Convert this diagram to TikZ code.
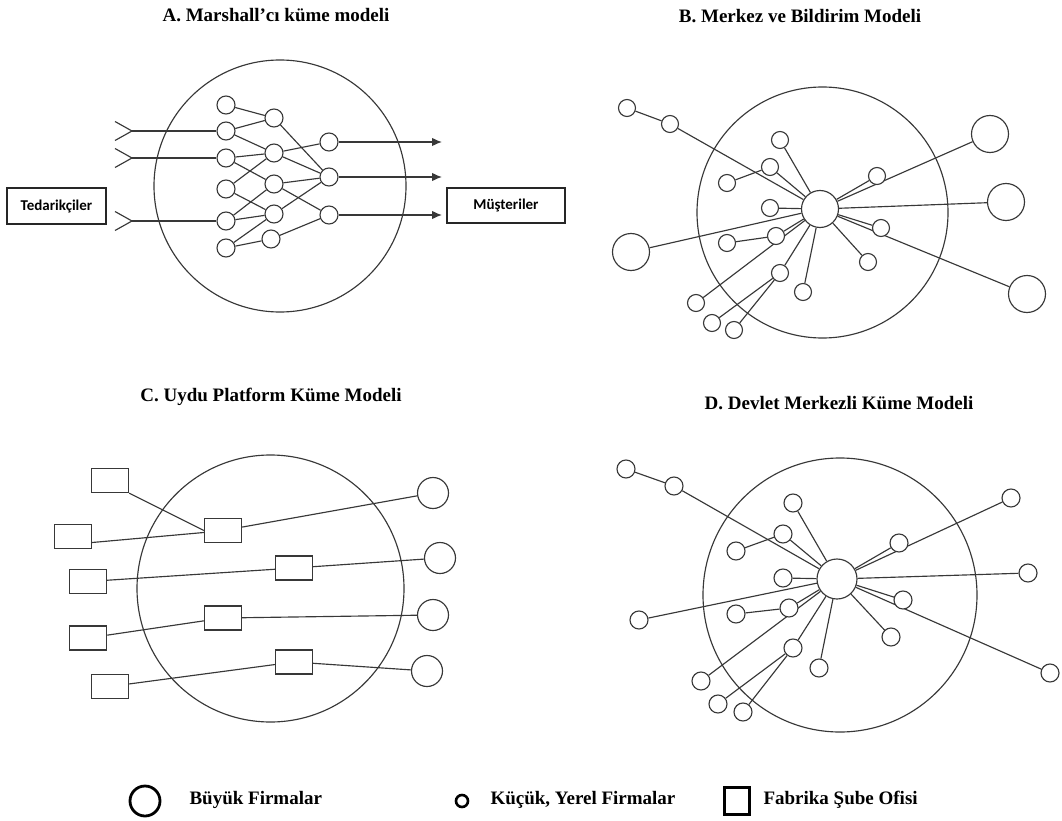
\documentclass[tikz,border=0pt]{standalone}
\usepackage{fontspec}
\setmainfont{Liberation Serif}
\newfontfamily\boxfont{Carlito}
\usetikzlibrary{arrows.meta,backgrounds}
\begin{document}
\begin{tikzpicture}[x=1pt,y=-1pt,
  ln/.style={draw=black!78,line width=1.15pt},
  cluster/.style={circle,ln,minimum size=#1,inner sep=0pt},
  sm/.style={circle,ln,fill=white,minimum size=18pt,inner sep=0pt},
  ss/.style={circle,ln,fill=white,minimum size=17pt,inner sep=0pt},
  hub/.style={circle,ln,fill=white,minimum size=#1,inner sep=0pt},
  bigfirm/.style={circle,ln,fill=white,minimum size=#1,inner sep=0pt},
  office/.style={rectangle,ln,line width=1.4pt,fill=white,minimum width=37pt,minimum height=24pt,inner sep=0pt},
  labelbox/.style={rectangle,draw=black!85,line width=1.4pt,inner sep=0pt,font=\boxfont\bfseries\fontsize{15}{18}\selectfont},
  title/.style={font=\bfseries\fontsize{19}{22}\selectfont},
  legtext/.style={font=\bfseries\fontsize{19}{22}\selectfont,anchor=west},
  edge/.style={ln},
  outarrow/.style={ln,-{Latex[length=10pt,width=8.5pt]}}
]
\useasboundingbox (0,0) rectangle (1062,821);

% ---------- titles ----------
\node[title] (tA) at (276,15) {A. Marshall’cı küme modeli};
\node[title] (tB) at (800,16) {B. Merkez ve Bildirim Modeli};
\node[title] (tC) at (271,397) {C. Uydu Platform Küme Modeli};
\node[title] (tD) at (839,403) {D. Devlet Merkezli Küme Modeli};

% ---------- A: Marshallian cluster ----------
\node[cluster=252pt] (cA) at (280,186) {};
\node[labelbox,minimum width=99pt,minimum height=36pt] (sup) at (56.5,206) {Tedarikçiler};
\node[labelbox,minimum width=118pt,minimum height=35pt] (cus) at (506,205.5) {Müşteriler};

\node[sm] (a11) at (226,105) {};
\node[sm] (a12) at (226,131) {};
\node[sm] (a13) at (226,158) {};
\node[sm] (a14) at (226,189) {};
\node[sm] (a15) at (226,221) {};
\node[sm] (a16) at (226,248) {};
\node[sm] (a21) at (274,118) {};
\node[sm] (a22) at (274,153) {};
\node[sm] (a23) at (274,184) {};
\node[sm] (a24) at (274,214) {};
\node[sm] (a25) at (271,239) {};
\node[sm] (a31) at (329,142) {};
\node[sm] (a32) at (329,177) {};
\node[sm] (a33) at (329,215) {};

\coordinate (v1) at (132,131);
\coordinate (v2) at (132,158);
\coordinate (v3) at (132,221);
\coordinate (o1) at (442,142);
\coordinate (o2) at (442,177);
\coordinate (o3) at (442,215);

\begin{pgfonlayer}{background}
  \foreach \a/\b in {a11/a21,a12/a21,a12/a22,a13/a22,a13/a23,a14/a22,a14/a24,
                     a15/a23,a15/a24,a16/a24,a16/a25,a21/a32,a22/a31,a22/a32,
                     a23/a32,a23/a33,a24/a32,a25/a33}
    \draw[edge] (\a) -- (\b);
  \draw[edge] (v1) -- (a12);
  \draw[edge] (v2) -- (a13);
  \draw[edge] (v3) -- (a15);
\end{pgfonlayer}
\foreach \v in {v1,v2,v3}
  \draw[edge] (\v) ++(-17,-9.5) -- (\v) -- ++(-17,9.5);
\draw[outarrow] (a31) -- (o1);
\draw[outarrow] (a32) -- (o2);
\draw[outarrow] (a33) -- (o3);

% ---------- B: hub-and-spoke ----------
\node[cluster=251pt] (cB) at (822.5,212.5) {};
\node[hub=37pt] (hB) at (820,209) {};
\node[ss] (b1) at (627,108) {};
\node[ss] (b2) at (670,124) {};
\node[ss] (b3) at (780,140) {};
\node[ss] (b4) at (770,167) {};
\node[ss] (b5) at (727,183) {};
\node[ss] (b6) at (770,208) {};
\node[ss] (b7) at (776,236) {};
\node[ss] (b8) at (727,243) {};
\node[ss] (b9) at (780,273) {};
\node[ss] (b10) at (696,303) {};
\node[ss] (b11) at (712,323) {};
\node[ss] (b12) at (734,330) {};
\node[ss] (b13) at (803,292) {};
\node[ss] (b14) at (868,262) {};
\node[ss] (b15) at (881,228) {};
\node[ss] (b16) at (877,176) {};
\node[bigfirm=37pt] (B1) at (631,252) {};
\node[bigfirm=37pt] (B2) at (990,134) {};
\node[bigfirm=37pt] (B3) at (1006,202) {};
\node[bigfirm=37pt] (B4) at (1027,294) {};
\begin{pgfonlayer}{background}
  \foreach \a/\b in {b1/b2,b2/hB,b3/hB,b4/hB,b5/b4,b6/hB,b7/hB,b8/b7,b9/hB,
                     b10/hB,b11/b9,b12/b9,b13/hB,b14/hB,b15/hB,b16/hB,
                     B1/hB,B2/hB,B3/hB,B4/hB}
    \draw[edge] (\a) -- (\b);
\end{pgfonlayer}

% ---------- C: satellite platform ----------
\node[cluster=267pt] (cC) at (270.5,588.5) {};
\node[office] (r1) at (110,480.5) {};
\node[office] (r2) at (73,536.5) {};
\node[office] (r3) at (88,581.5) {};
\node[office] (r4) at (88,638) {};
\node[office] (r5) at (110,686.5) {};
\node[office] (i1) at (223,530.5) {};
\node[office] (i2) at (294,568) {};
\node[office] (i3) at (223,618) {};
\node[office] (i4) at (294,662) {};
\node[bigfirm=31pt] (c1) at (433,493) {};
\node[bigfirm=31pt] (c2) at (440,558) {};
\node[bigfirm=31pt] (c3) at (433,615) {};
\node[bigfirm=31pt] (c4) at (427,671) {};
\begin{pgfonlayer}{background}
  \draw[edge] (r1.south east) -- (i1.west);
  \draw[edge] ([yshift=-6pt]r2.east) -- ([yshift=-2pt]i1.west);
  \foreach \a/\b in {i1/c1,r3/i2,i2/c2,r4/i3,i3/c3,r5/i4,i4/c4}
    \draw[edge] (\a) -- (\b);
\end{pgfonlayer}

% ---------- D: state-anchored ----------
\node[cluster=274pt] (cD) at (840,595) {};
\node[hub=40pt] (hD) at (837,579) {};
\node[sm] (d1) at (626,469) {};
\node[sm] (d2) at (674,486) {};
\node[sm] (d3) at (793,503) {};
\node[sm] (d4) at (783,534) {};
\node[sm] (d5) at (736,551) {};
\node[sm] (d6) at (783,578) {};
\node[sm] (d7) at (789,608) {};
\node[sm] (d8) at (736,614) {};
\node[sm] (d9) at (639,620) {};
\node[sm] (d10) at (793,648) {};
\node[sm] (d11) at (701,681) {};
\node[sm] (d12) at (718,704) {};
\node[sm] (d13) at (743,712) {};
\node[sm] (d14) at (819,668) {};
\node[sm] (d15) at (891,637) {};
\node[sm] (d16) at (903,600) {};
\node[sm] (d17) at (899,543) {};
\node[sm] (d18) at (1011,498) {};
\node[sm] (d19) at (1028,573) {};
\node[sm] (d20) at (1050,673) {};
\begin{pgfonlayer}{background}
  \foreach \a/\b in {d1/d2,d2/hD,d3/hD,d4/hD,d5/d4,d6/hD,d7/hD,d8/d7,d9/hD,
                     d10/hD,d11/hD,d12/d10,d13/d10,d14/hD,d15/hD,d16/hD,
                     d17/hD,d18/hD,d19/hD,d20/hD}
    \draw[edge] (\a) -- (\b);
\end{pgfonlayer}

% ---------- legend ----------
\node[circle,draw=black,line width=2.8pt,minimum size=30pt,inner sep=0pt] (lg1) at (145,801) {};
\node[legtext] (lt1) at (186,800) {Büyük Firmalar};
\node[circle,draw=black,line width=2.6pt,minimum size=12pt,inner sep=0pt] (lg2) at (462,801) {};
\node[legtext] (lt2) at (487,800) {Küçük, Yerel Firmalar};
\node[rectangle,draw=black,line width=2.8pt,minimum width=25pt,minimum height=27pt,inner sep=0pt] (lg3) at (737,801) {};
\node[legtext] (lt3) at (760,800) {Fabrika Şube Ofisi};
\end{tikzpicture}
\end{document}
